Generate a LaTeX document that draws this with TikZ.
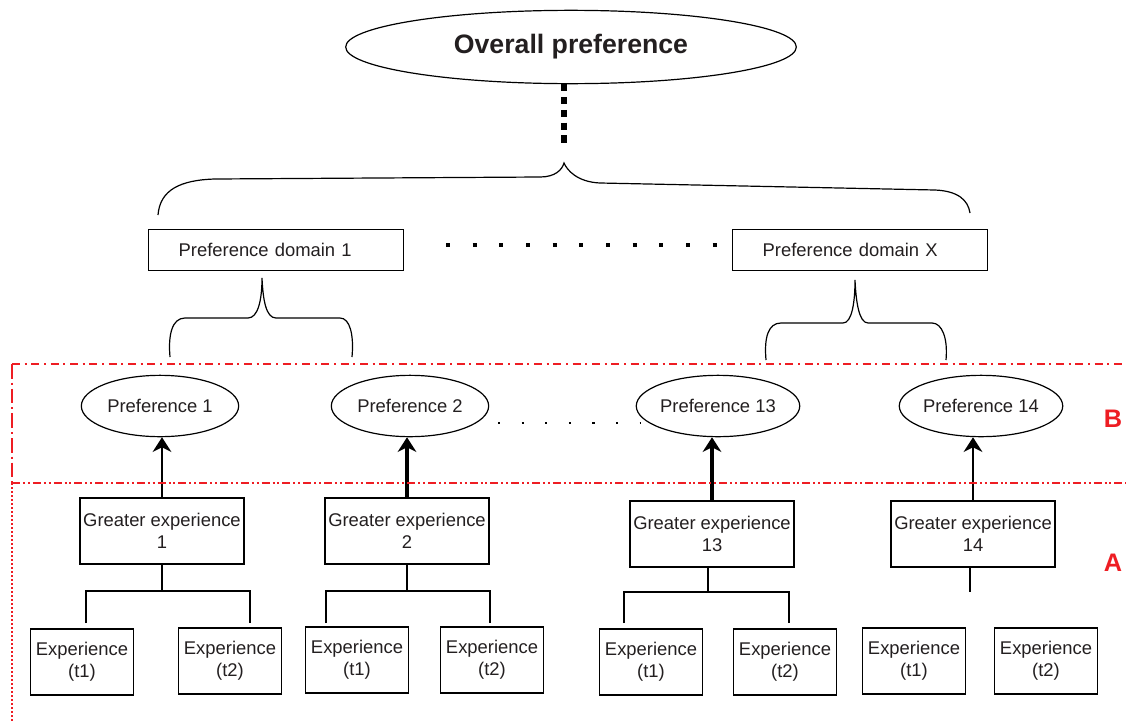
\documentclass[tikz,border=0pt]{standalone}
\usepackage{fontspec}
\setmainfont{Liberation Sans}
\usepackage{tikz}
\usetikzlibrary{shapes,shapes.geometric,arrows,arrows.meta,positioning,fit}

\definecolor{txtgray}{HTML}{231F20}
\definecolor{zonered}{HTML}{EE1D23}

\begin{document}
\begin{tikzpicture}[x=0.75pt, y=-0.75pt]
			\tikzstyle{Top}		= [ellipse, draw, line width=0.9pt, minimum width=338pt, minimum height=55pt, inner sep=0pt, font=\fontsize{20}{23}\selectfont\bfseries]
			\tikzstyle{Domain}	= [rectangle, draw, line width=0.9pt, minimum width=191pt, minimum height=31pt, text width=146pt, align=left, inner xsep=22pt, inner ysep=0pt]
			\tikzstyle{Pref}	= [ellipse, draw, line width=0.9pt, minimum width=118pt, minimum height=46pt, inner sep=0pt]
			\tikzstyle{Greater}	= [rectangle, draw, line width=0.9pt, minimum width=123pt, minimum height=49.5pt, inner sep=1pt, align=center]
			\tikzstyle{Exp}		= [rectangle, draw, line width=0.9pt, minimum width=77pt, minimum height=49.5pt, inner sep=1pt, align=center]
			\tikzstyle{Up}		= [-{Stealth[length=11pt, width=14pt, inset=3.5pt]}, black]
			\tikzstyle{Branch}	= [line width=0.9pt]
			\tikzstyle{Brace}	= [line width=0.9pt]
			\tikzstyle{Zone}	= [zonered, line width=1.5pt]
			\tikzstyle{Tag}		= [text=zonered, font=\fontsize{19}{21}\selectfont\bfseries]
			
			\useasboundingbox (0,0) rectangle (1126,721);
			\begin{scope}[text=txtgray, font=\fontsize{13.8}{16.5}\selectfont]
			
			% top level
			\node (top) at (571,47) [Top] {Overall preference};
			\node (dom1) at (276,250) [Domain] {Preference domain 1};
			\node (domX) at (860,250) [Domain] {Preference domain X};
			
			% region B
			\node (p1) at (160,406) [Pref] {Preference 1};
			\node (p2) at (410,406) [Pref] {Preference 2};
			\node (p13) at (718,406) [Pref] {Preference 13};
			\node (p14) at (981,406) [Pref] {Preference 14};
			
			% region A
			\node (ge1) at (162,531) [Greater] {Greater experience\\1};
			\node (ge2) at (407,531) [Greater] {Greater experience\\2};
			\node (ge13) at (712,534) [Greater] {Greater experience\\13};
			\node (ge14) at (973,534) [Greater] {Greater experience\\14};
			
			\node (e1a) at (82,662) [Exp] {Experience\\(t1)};
			\node (e1b) at (230,661) [Exp] {Experience\\(t2)};
			\node (e2a) at (357,660) [Exp] {Experience\\(t1)};
			\node (e2b) at (492,660) [Exp] {Experience\\(t2)};
			\node (e13a) at (651,662) [Exp] {Experience\\(t1)};
			\node (e13b) at (785,662) [Exp] {Experience\\(t2)};
			\node (e14a) at (914,661) [Exp] {Experience\\(t1)};
			\node (e14b) at (1046,661) [Exp] {Experience\\(t2)};
			\end{scope}
			
			% brace peaks and branch ends
			\coordinate (bigpeak) at (564,163);
			\coordinate (peak1) at (262,278);
			\coordinate (peakX) at (855,280);
			\coordinate (j1) at (162,591);
			\coordinate (j2) at (407,591);
			\coordinate (j13) at (708,592);
			\coordinate (j14) at (970,592);
			\coordinate (l1a) at (86,623);
			\coordinate (l1b) at (250,623);
			\coordinate (l2a) at (326,623);
			\coordinate (l2b) at (490,623);
			\coordinate (l13a) at (624,623);
			\coordinate (l13b) at (789,623);
			
			\draw (top.south -| bigpeak) -- ([yshift=12.5pt]bigpeak) [line width=5pt, dash pattern=on 5.3pt off 4.3pt];
			
			\draw [Brace] (158,215) .. controls (160,190) and (180,180) .. (215,179) -- (540,177)
				.. controls (555,177) and (562,170) .. (bigpeak)
				.. controls (567,170) and (577,182) .. (600,183) -- (935,190)
				.. controls (958,191) and (968,200) .. (970,213);
			\draw [Brace] (170,357) .. controls (168,335) and (172,318) .. (185,318) -- (248,318)
				.. controls (258,318) and (262,300) .. (peak1)
				.. controls (263,300) and (266,318) .. (276,318) -- (340,318)
				.. controls (350,318) and (354,335) .. (352,357);
			\draw [Brace] (766,360) .. controls (764,338) and (768,323) .. (781,323) -- (843,323)
				.. controls (852,323) and (855,302) .. (peakX)
				.. controls (856,302) and (859,323) .. (868,323) -- (932,323)
				.. controls (942,323) and (948,338) .. (946,360);
			
			\draw (446,245) -- (720,245) [line width=3pt, dash pattern=on 3pt off 17pt];
			\draw (498,423) -- (640,423) [line width=1.7pt, dash pattern=on 1.7pt off 16pt];
			
			\draw [Up, line width=2.2pt] (ge1) to (ge1 |- p1.south);
			\draw [Up, line width=3.3pt] (ge2) to (ge2 |- p2.south);
			\draw [Up, line width=3pt] (ge13) to (ge13 |- p13.south);
			\draw [Up, line width=1.9pt] (ge14) to (ge14 |- p14.south);
			
			\draw [Branch] (ge1) -- (j1);
			\draw [Branch] (l1a) |- (j1) -| (l1b);
			\draw [Branch] (ge2) -- (j2);
			\draw [Branch] (l2a) |- (j2) -| (l2b);
			\draw [Branch] (ge13.south -| j13) -- (j13);
			\draw [Branch] (l13a) |- (j13) -| (l13b);
			\draw [Branch] (ge14.south -| j14) -- (j14);
			
			% regions
			\draw (12,364) -- (1126,364) [Zone, dash pattern=on 6pt off 3.5pt on 1.5pt off 3.5pt];
			\draw (12,483) -- (1126,483) [Zone, dash pattern=on 6pt off 2.2pt on 1.5pt off 2.2pt on 1.5pt off 2.2pt];
			\draw (12,364) -- (12,483) [Zone, dash pattern=on 11pt off 3pt on 1.5pt off 3pt];
			\draw (12,483) -- (12,721) [Zone, dash pattern=on 1.5pt off 1.5pt];
			\node (tagB) at (1113,419) [Tag] {B};
			\node (tagA) at (1113,563) [Tag] {A};
		\end{tikzpicture}
\end{document}
